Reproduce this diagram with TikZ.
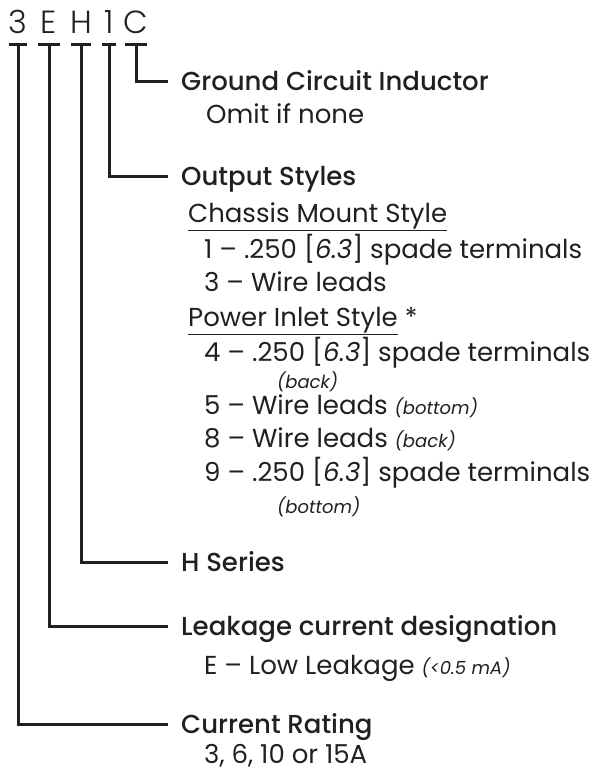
\documentclass[tikz,border=0pt]{standalone}
\usepackage{fontspec}
\setmainfont{Poppins}
\newfontfamily\headfont{Poppins Medium}
\newfontfamily\codefont{Poppins Light}
\definecolor{ink}{HTML}{231F20}
\newcommand{\notetxt}[1]{{\itshape\fontsize{18}{18}\selectfont #1}}
\begin{document}
\begin{tikzpicture}[x=1pt,y=-1pt,
  ln/.style={draw=ink,line width=3pt},
  code/.style={inner sep=0pt,anchor=base,text=ink,font=\codefont\fontsize{32}{32}\selectfont},
  head/.style={inner sep=0pt,anchor=west,text=ink,text height=18pt,text depth=0pt,font=\headfont\fontsize{26}{26}\selectfont},
  body/.style={inner sep=0pt,anchor=base west,text=ink,font=\fontsize{26}{26}\selectfont},
  note/.style={inner sep=0pt,anchor=base west,text=ink,font=\itshape\fontsize{18}{18}\selectfont}]
\useasboundingbox (0,0) rectangle (600,769);
% code letters
\node[code] (l3) at (18,33) {3};
\node[code] (lE) at (49,33) {E};
\node[code] (lH) at (81,33) {H};
\node[code] (l1) at (109,33) {1};
\node[code] (lC) at (136,33) {C};
\coordinate (bar) at (0,44);
% T bars
\draw[ln] ([xshift=-9pt]l3 |- bar) -- ([xshift=9pt]l3 |- bar);
\draw[ln] ([xshift=-11pt]lE |- bar) -- ([xshift=11pt]lE |- bar);
\draw[ln] ([xshift=-10pt]lH |- bar) -- ([xshift=10pt]lH |- bar);
\draw[ln] ([xshift=-7pt]l1 |- bar) -- ([xshift=7pt]l1 |- bar);
\draw[ln] ([xshift=-11pt]lC |- bar) -- ([xshift=11pt]lC |- bar);
% headings
\node[head] (gci) at (181,81) {Ground Circuit Inductor};
\node[head] (out) at (181,176) {Output Styles};
\node[head] (hs)  at (181,562) {H Series};
\node[head] (lcd) at (181,626) {Leakage current designation};
\node[head] (cr)  at (181,724) {Current Rating};
% connectors
\draw[ln] (lC |- bar) |- ([xshift=-13pt]gci.west);
\draw[ln] (l1 |- bar) |- ([xshift=-13pt]out.west);
\draw[ln] (lH |- bar) |- ([xshift=-13pt]hs.west);
\draw[ln] (lE |- bar) |- ([xshift=-13pt]lcd.west);
\draw[ln] (l3 |- bar) |- ([xshift=-13pt]cr.west);
% details
\node[body] (omit) at (206,123) {Omit if none};
\node[body] (cms) at (188,222) {\underline{Chassis Mount Style}};
\node[body] (o1) at (204,258) {1 – .250 [\textit{6.3}] spade terminals};
\node[body] (o3) at (204,291) {3 – Wire leads};
\node[body] (pis) at (188,326) {\underline{Power Inlet Style} *};
\node[body] (o4) at (204,361) {4 – .250 [\textit{6.3}] spade terminals};
\node[note] (o4b) at (277,388) {(back)};
\node[body] (o5) at (204,414) {5 – Wire leads \notetxt{(bottom)}};
\node[body] (o8) at (204,447) {8 – Wire leads \notetxt{(back)}};
\node[body] (o9) at (204,481) {9 – .250 [\textit{6.3}] spade terminals};
\node[note] (o9b) at (277,513) {(bottom)};
\node[body] (ell) at (204,674) {E – Low Leakage \notetxt{(<0.5 mA)}};
\node[body] (rat) at (204,763) {3, 6, 10 or 15A};
\end{tikzpicture}
\end{document}
